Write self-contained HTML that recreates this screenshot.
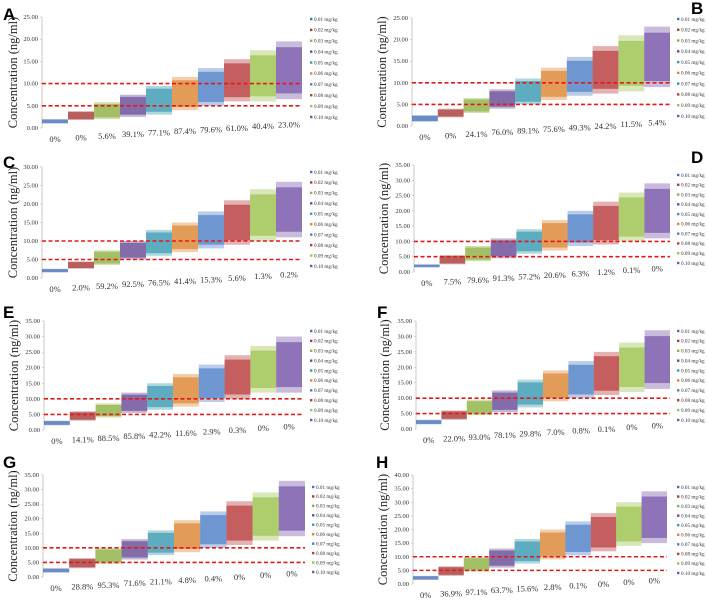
<!DOCTYPE html>
<html><head><meta charset="utf-8">
<style>
html,body{margin:0;padding:0;background:#fff;}
svg{display:block;font-family:"Liberation Serif",serif;}
.lt{font-family:"Liberation Sans",sans-serif;font-weight:bold;font-size:17px;}
</style></head>
<body>
<svg id="fig" width="708" height="601" viewBox="0 0 708 601"></svg>
<script>
const doseLabels=["0.01 mg/kg","0.02 mg/kg","0.03 mg/kg","0.04 mg/kg","0.05 mg/kg","0.06 mg/kg","0.07 mg/kg","0.08 mg/kg","0.09 mg/kg","0.10 mg/kg"];
const colors=["#4a72b8","#a83c3a","#8fb244","#694a96","#3a9ab2","#dd8632","#4f80c8","#b83c3c","#9cc24c","#7654a8"];
const thresholds=[5,10];
const panelLetters=["A","B","C","D","E","F","G","H"];
const yMaxes=[25,25,30,35,35,35,35,40];
const lowA=[1,1.8,2,2.5,3,4,5,6,6,6.5];
const highA=[2,3.8,5.8,7.5,9.5,11.5,13.5,15.5,17.5,19.5];
const lowB=[1,2,3,4,5,6,7,7.5,8,9];
const highB=[2.5,4,6.5,8.5,11,13.5,16,18.5,21,23];
const lowC=[1.5,2.5,3.5,5,6,7,8,9,10,11];
const highC=[2.5,4.5,7.5,10,13,15,18,21,24,26];
const lowD=[1.5,2.5,3.5,4.5,6,7,8.5,9,10,11];
const highD=[2.5,5.5,8.5,11,14,17,20,23,26,29];
const lowE=[1.5,3,4,5.5,6.5,7.5,9,10,12,12];
const highE=[3,6,8.5,12,15,18,21,24,27,30];
const lowF=[1.5,3,4.5,5.5,7,9,10,11,12,13];
const highF=[3,6,9.5,12.5,16,19,22,25,28,32];
const lowG=[1.5,3,4.5,6,7.5,8.5,10,11,12.5,14];
const highG=[3,6.5,10,13,16,19.5,22.5,26,29,33];
const lowH=[1.5,3,4.5,6,7.5,9,10.5,12,14,15];
const highH=[3,6.5,10,13,16.5,20,23,26,30,34];
const pctA=["0%","0%","5.6%","39.1%","77.1%","87.4%","79.6%","61.0%","40.4%","23.0%"];
const pctB=["0%","0%","24.1%","76.0%","89.1%","75.6%","49.3%","24.2%","11.5%","5.4%"];
const pctC=["0%","2.0%","59.2%","92.5%","76.5%","41.4%","15.3%","5.6%","1.3%","0.2%"];
const pctD=["0%","7.5%","79.6%","91.3%","57.2%","20.6%","6.3%","1.2%","0.1%","0%"];
const pctE=["0%","14.1%","88.5%","85.8%","42.2%","11.6%","2.9%","0.3%","0%","0%"];
const pctF=["0%","22.0%","93.0%","78.1%","29.8%","7.0%","0.8%","0.1%","0%","0%"];
const pctG=["0%","28.8%","95.3%","71.6%","21.1%","4.8%","0.4%","0%","0%","0%"];
const pctH=["0%","36.9%","97.1%","63.7%","15.6%","2.8%","0.1%","0%","0%","0%"];
const lows=[lowA,lowB,lowC,lowD,lowE,lowF,lowG,lowH];
const highs=[highA,highB,highC,highD,highE,highF,highG,highH];
const pcts=[pctA,pctB,pctC,pctD,pctE,pctF,pctG,pctH];

const geo=[
 {x0:42,x1:302,yT:17,yB:128,lx:3,ly:20,leg:310,legT:19,legB:117,tc:13},
 {x0:412,x1:670,yT:18,yB:126,lx:691,ly:14,leg:677,legT:19,legB:116,tc:382},
 {x0:42,x1:302,yT:167,yB:278,lx:3,ly:168,leg:310,legT:172,legB:266,tc:13},
 {x0:414,x1:670,yT:165,yB:272,lx:691,ly:163,leg:677,legT:175,legB:263,tc:384},
 {x0:44,x1:302,yT:321,yB:430,lx:3,ly:318,leg:310,legT:331,legB:420,tc:14},
 {x0:416,x1:670,yT:321,yB:429,lx:377,ly:318,leg:677,legT:331,legB:420,tc:385},
 {x0:43,x1:305,yT:475,yB:577,lx:3,ly:468,leg:312,legT:487,legB:572,tc:13},
 {x0:413,x1:667,yT:475,yB:584,lx:376,ly:468,leg:677,legT:487,legB:573,tc:383}
];
const NS="http://www.w3.org/2000/svg";
const svg=document.getElementById("fig");
function mk(tag,attrs,parent){const e=document.createElementNS(NS,tag);for(const k in attrs)e.setAttribute(k,attrs[k]);(parent||svg).appendChild(e);return e;}

for(let p=0;p<8;p++){
  const g=geo[p],yMax=yMaxes[p];
  const panel=mk("g",{});
  
  
  const yS=v=>g.yB-(v/yMax)*(g.yB-g.yT);
  const n=doseLabels.length, cw=(g.x1-g.x0)/n;
  const xS=i=>g.x0+i*cw;
  const L=mk("text",{x:g.lx,y:g.ly,class:"lt","font-size":"17",fill:"#000"},panel);
  L.textContent=panelLetters[p];
  
  
  const ax=mk("line",{x1:g.x0,x2:g.x0,y1:g.yT,y2:g.yB,stroke:"#bbb","stroke-width":"0.8"},panel);
  
  
  for(let v=0;v<=yMax;v+=5){
    const t=mk("text",{x:g.x0-4,y:yS(v)+2,"font-size":"6.5","text-anchor":"end",fill:"#333"},panel);
    t.textContent=v.toFixed(2);
    
    
    mk("line",{x1:g.x0-2,x2:g.x0,y1:yS(v),y2:yS(v),stroke:"#bbb","stroke-width":"0.6"},panel);
  }
  const yt=mk("text",{x:0,y:4,"font-size":"12.5","text-anchor":"middle",fill:"#222",transform:`translate(${g.tc},${(g.yT+g.yB)/2}) rotate(-90)`},panel);
  yt.textContent="Concentration (ng/ml)";
  
  
  for(let i=0;i<n;i++){
    const lo=lows[p][i],hi=highs[p][i],span=hi-lo;
    const o=mk("rect",{x:xS(i),y:yS(hi),width:cw,height:yS(lo)-yS(hi),fill:colors[i],opacity:"0.4"},panel);
    
    
    const c=mk("rect",{x:xS(i),y:yS(hi-span*0.1),width:cw,height:yS(lo+span*0.1)-yS(hi-span*0.1),fill:colors[i],opacity:"0.7"},panel);
    
    
    const t=mk("text",{x:xS(i)+cw/2,y:g.yB+14-i*1.6,"font-size":"8.5","text-anchor":"middle",fill:"#333"},panel);
    t.textContent=pcts[p][i];
    
    
  }
  thresholds.forEach(v=>{
    const l=mk("line",{x1:g.x0,x2:g.x1,y1:yS(v),y2:yS(v),stroke:"#e0191b","stroke-width":"1.6","stroke-dasharray":"4,2.5"},panel);
    
    
  });
  const step=(g.legB-g.legT)/(n-1);
  for(let i=0;i<n;i++){
    const yy=g.legT+i*step;
    const le=mk("g",{},panel);
    
    
    mk("rect",{x:g.leg,y:yy-1.2,width:2.4,height:2.4,fill:colors[i]},le);
    const t=mk("text",{x:g.leg+4,y:yy+1.8,"font-size":"5.2",fill:"#333"},le);
    t.textContent=doseLabels[i];
  }
}
</script>
</body></html>
